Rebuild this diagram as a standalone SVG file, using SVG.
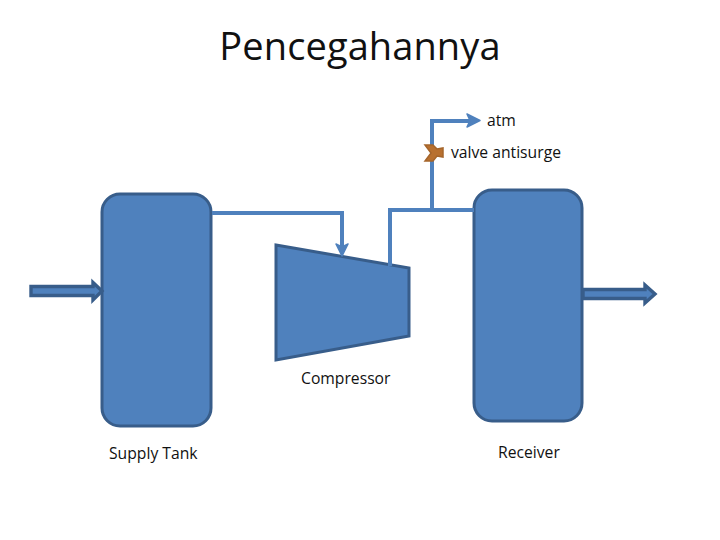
<svg xmlns="http://www.w3.org/2000/svg" width="720" height="540" viewBox="0 0 720 540">
<style>
text{font-family:"Open Sans","Liberation Sans",sans-serif;fill:#111}
.l{font-size:15.7px}
.s{fill:#4f81bd;stroke:#385d8a;stroke-width:3}
.a{fill:#4f81bd;stroke:#385d8a;stroke-width:3.4}
.c{fill:none;stroke:#4f81bd;stroke-width:4}
.h{fill:#4f81bd;stroke:#4f81bd;stroke-width:1.500;stroke-linejoin:round}
</style>
<rect width="720" height="540" fill="#fff"/>
<text id="title" x="360" y="60" text-anchor="middle" style="font-size:38px;letter-spacing:.1px">Pencegahannya</text>
<g id="supply-tank"><rect class="s" x="102" y="194" width="109" height="232" rx="18"/><text class="l" x="109" y="459">Supply Tank</text></g>
<g id="receiver"><rect class="s" x="474" y="190" width="108" height="231" rx="18"/><text class="l" x="498" y="458">Receiver</text></g>
<g id="compressor"><path class="s" d="M276 245L409 268V336L276 360Z"/><text class="l" x="301" y="384">Compressor</text></g>
<g id="connectors">
<path class="c" d="M212 213H342V246"/>
<path class="h" d="M336 244L342 256L348 244L342 247Z"/>
<path class="c" d="M390 266V210H474"/>
<path class="c" d="M432 212V121H470"/>
<path class="h" d="M467 114L480 120.500L467 127L470 120.500Z"/>
<path class="a" d="M31 286.500H93V282.500L102 291L93 300V295.500H31Z"/>
<path class="a" d="M583 289.500H645V285L655 294L645 303V298.500H583Z"/>
</g>
<g id="valve">
<path d="M425 145H433L437 149L443 148V157L437 156L433 161H425L431 153Z" fill="#b8702f" stroke="#a5652b" stroke-width="1.500"/>
<text class="l" x="451" y="158">valve antisurge</text>
</g>
<text id="atm" class="l" x="487" y="126">atm</text>
</svg>
